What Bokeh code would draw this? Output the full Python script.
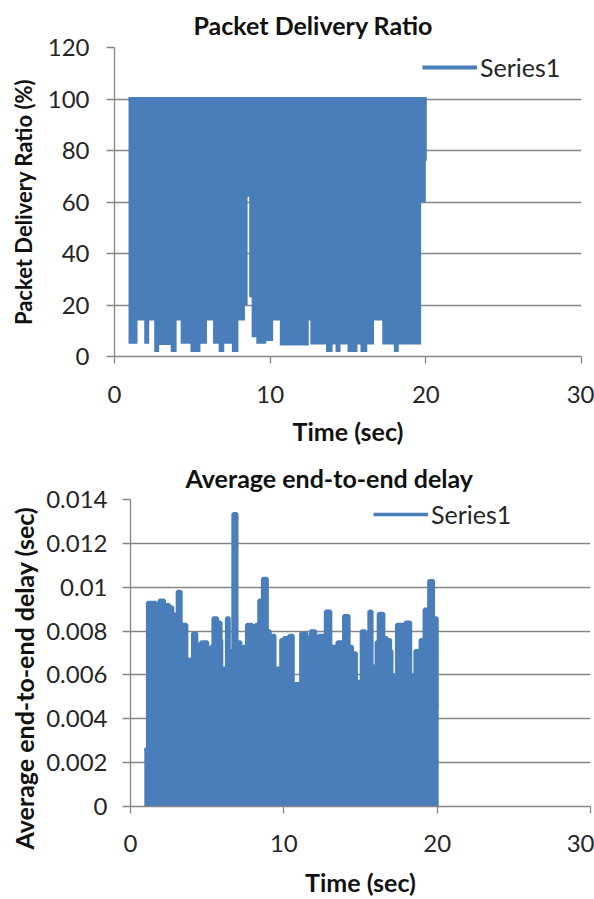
from bokeh.plotting import figure
from bokeh.models import FixedTicker, Legend, LegendItem, Title
from bokeh.embed import file_html
from bokeh.resources import INLINE

# ---------------- data ----------------
time_ticks = [0, 10, 20, 30]
pdr_ticks = [0, 20, 40, 60, 80, 100, 120]
delay_ticks = [0, 0.002, 0.004, 0.006, 0.008, 0.01, 0.012, 0.014]
delay_tick_labels = ["0", "0.002", "0.004", "0.006", "0.008", "0.01", "0.012", "0.014"]

# Packet delivery ratio: dense series, envelope per time segment (edges in sec)
pdr_time = [0.9, 1.48, 1.91, 2.23, 2.55, 2.87, 3.61, 3.99, 4.25, 4.88, 5.52, 5.94,
            6.33, 6.69, 7.05, 7.54, 7.96, 8.38, 8.55, 8.65, 8.81, 9.11, 9.75,
            10.19, 10.62, 12.48, 12.58, 13.59, 14.01, 14.20, 14.52, 14.97, 15.61,
            15.80, 16.24, 16.67, 17.20, 17.94, 18.26, 19.70, 20.00, 20.06]
pdr_min = [5, 14, 5, 14, 1.7, 4.5, 1.7, 14, 5, 1.7, 5, 14,
           5, 1.7, 5, 1.7, 14, 20, 62, 23, 7.5, 5,
           6, 14, 4.3, 14, 4.7, 1.7, 4.7, 1.7, 4.7, 1.7,
           4.7, 1.7, 4.7, 14, 4.7, 1.7, 4.7, 60, 76]
pdr_max = [100] * 41

# Average end-to-end delay: dense series, peak envelope per time segment
delay_time = [0.90, 1.12, 1.66, 1.88, 2.20, 2.53, 2.74, 2.86, 3.06, 3.29, 3.66,
              4.06, 4.31, 4.59, 5.02, 5.24, 5.39, 5.67, 5.89, 5.94, 6.27, 6.43,
              6.69, 6.93, 7.19, 7.36, 7.58, 7.95, 8.17, 8.38, 8.62, 8.91, 9.10,
              9.41, 9.81, 10.00, 10.34, 10.60, 11.11, 11.48, 11.74, 12.07, 12.28,
              12.72, 13.05, 13.48, 13.80, 13.91, 14.24, 14.46, 14.72, 15.06, 15.33,
              15.56, 15.74, 16.03, 16.17, 16.51, 16.72, 16.95, 17.04, 17.36, 17.60,
              17.93, 18.26, 18.56, 18.90, 19.16, 19.46, 19.75, 19.99, 20.10]
delay_max = [0.0026, 0.0093, 0.0092, 0.0094, 0.0092, 0.0091, 0.0088, 0.0069, 0.0098, 0.0083,
             0.0067, 0.0079, 0.0074, 0.0075, 0.0071, 0.0073, 0.0086, 0.0084, 0.0076, 0.0063,
             0.0086, 0.0071, 0.01335, 0.0075, 0.0071, 0.0073, 0.0083, 0.0071, 0.0083, 0.0094,
             0.0104, 0.0080, 0.0078, 0.0063, 0.0076, 0.0077, 0.0078, 0.0056, 0.0079, 0.0077,
             0.0080, 0.0077, 0.0078, 0.0089, 0.0073, 0.0075, 0.0071, 0.0087, 0.0073, 0.0070,
             0.0057, 0.0080, 0.0071, 0.0089, 0.0064, 0.0075, 0.0088, 0.0077, 0.0076, 0.0071,
             0.0060, 0.0083, 0.0083, 0.0084, 0.0060, 0.0071, 0.0076, 0.0090, 0.0103, 0.0086,
             0.0047]

# ---------------- style ----------------
BLUE = "#4A7EBB"
GRID = "#868686"
FONT = "Lato"
TICK_COLOR = "#262626"
TITLE_COLOR = "#111111"


def style_axes(p, x_stand, x_label_stand, y_stand):
    for ax in (p.xaxis[0], p.yaxis[0]):
        ax.axis_line_color = GRID
        ax.axis_line_width = 1.3
        ax.major_tick_line_color = GRID
        ax.major_tick_line_width = 1.3
        ax.minor_tick_line_color = None
        ax.major_tick_in = 0
        ax.major_label_text_font = FONT
        ax.major_label_text_font_size = "24px"
        ax.major_label_text_color = TICK_COLOR
        ax.axis_label_text_font = FONT
        ax.axis_label_text_font_size = "25px"
        ax.axis_label_text_font_style = "bold"
        ax.axis_label_text_color = TITLE_COLOR
    p.xaxis[0].major_tick_out = 7
    p.yaxis[0].major_tick_out = 8
    p.xaxis[0].major_label_standoff = x_stand
    p.xaxis[0].axis_label_standoff = x_label_stand
    p.yaxis[0].major_label_standoff = y_stand
    p.xgrid.grid_line_color = None
    p.ygrid.grid_line_color = GRID
    p.ygrid.grid_line_width = 1.3
    p.outline_line_color = None


def style_legend(leg):
    leg.border_line_color = None
    leg.background_fill_alpha = 0
    leg.padding = 0
    leg.margin = 0
    leg.spacing = 0
    leg.glyph_width = 55
    leg.glyph_height = 26
    leg.label_height = 26
    leg.label_standoff = 3
    leg.label_text_font = FONT
    leg.label_text_font_size = "25px"
    leg.label_text_color = TICK_COLOR


def make_title(text, size, align, offset, standoff, valign):
    return Title(text=text, align=align, offset=offset, standoff=standoff,
                 vertical_align=valign, text_font=FONT, text_font_size=size,
                 text_font_style="bold", text_color=TITLE_COLOR)


# ---------------- top chart ----------------
p1 = figure(width=594, height=450, x_range=(0, 30), y_range=(0, 120),
            output_backend="svg", toolbar_location=None,
            min_border_left=110, min_border_right=13,
            min_border_top=47, min_border_bottom=94)
p1.varea_step(x=pdr_time, y1=pdr_min + [pdr_min[-1]], y2=pdr_max + [pdr_max[-1]],
              step_mode="after", fill_color=BLUE)
r1 = p1.step(x=pdr_time, y=pdr_max + [pdr_max[-1]], mode="after",
             line_color=BLUE, line_width=4)
p1.xaxis.ticker = FixedTicker(ticks=time_ticks)
p1.yaxis.ticker = FixedTicker(ticks=pdr_ticks)
p1.xaxis.axis_label = "Time (sec)"
style_axes(p1, 22, 10, 17)
p1.add_layout(make_title("Packet Delivery Ratio", "25px", "left", 79, 15, "bottom"), "above")
p1.add_layout(make_title("Packet Delivery Ratio (%)", "22px", "center", 0, 15, "bottom"), "left")
leg1 = Legend(items=[LegendItem(label="Series1", renderers=[r1])], location=(308, 274))
style_legend(leg1)
p1.add_layout(leg1)

# ---------------- bottom chart ----------------
p2 = figure(width=594, height=449, x_range=(0, 30), y_range=(0, 0.014),
            output_backend="svg", toolbar_location=None,
            min_border_left=130, min_border_right=4,
            min_border_top=49, min_border_bottom=89)
p2.varea_step(x=delay_time, y1=[0] * len(delay_time), y2=delay_max + [delay_max[-1]],
              step_mode="after", fill_color=BLUE)
r2 = p2.step(x=delay_time, y=delay_max + [delay_max[-1]], mode="after",
             line_color=BLUE, line_width=3.5)
p2.xaxis.ticker = FixedTicker(ticks=time_ticks)
p2.yaxis.ticker = FixedTicker(ticks=delay_ticks)
p2.yaxis.major_label_overrides = dict(zip(delay_ticks, delay_tick_labels))
p2.xaxis.axis_label = "Time (sec)"
style_axes(p2, 21, 12, 15)
p2.add_layout(make_title("Average end-to-end delay", "25px", "left", 55, 14, "bottom"), "above")
p2.add_layout(make_title("Average end-to-end delay (sec)", "25px", "left", -43, 10, "bottom"), "left")
leg2 = Legend(items=[LegendItem(label="Series1", renderers=[r2])], location=(243, 277))
style_legend(leg2)
p2.add_layout(leg2)

open("out.html", "w").write(file_html([p1, p2], INLINE))
